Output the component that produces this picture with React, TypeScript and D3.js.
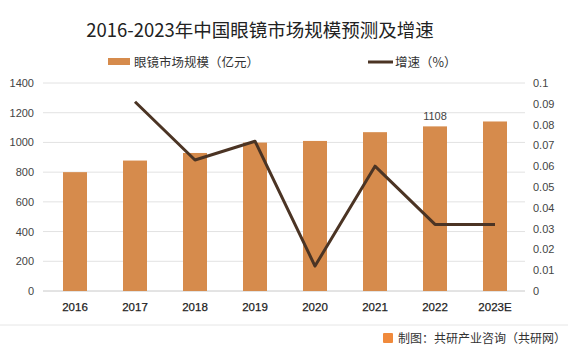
import React from "react";
import * as d3 from "d3";

const categories = ["2016", "2017", "2018", "2019", "2020", "2021", "2022", "2023E"];
const marketSize = [800, 878, 929, 999, 1010, 1069, 1108, 1141];
const growthYears = ["2017", "2018", "2019", "2020", "2021", "2022", "2023E"];
const growthRate = [0.091, 0.063, 0.072, 0.012, 0.060, 0.032, 0.032];
const leftTicks = [0, 200, 400, 600, 800, 1000, 1200, 1400];
const rightTicks = [0, 0.01, 0.02, 0.03, 0.04, 0.05, 0.06, 0.07, 0.08, 0.09, 0.1];
const labeledCategory = "2022";

const W = 568, H = 353;
const M = { left: 45, right: 525, top: 83, bottom: 291 };
const FONT = "'Liberation Sans', 'Noto Sans CJK SC', sans-serif";
const CJK = "'Noto Sans CJK SC', sans-serif";

export default function App() {
  const x = d3.scaleBand<string>().domain(categories).range([M.left, M.right]).paddingInner(0.6).paddingOuter(0.3);
  const yL = d3.scaleLinear().domain([0, 1400]).range([M.bottom, M.top]);
  const yR = d3.scaleLinear().domain([0, 0.1]).range([M.bottom, M.top]);
  const line = d3.line<number>()
    .x((_, i) => (x(growthYears[i]) as number) + x.bandwidth() / 2)
    .y((d) => yR(d));

  return (
    <svg width={W} height={H} style={{ position: "absolute", left: 0, top: 0, background: "#fff" }}>
      <rect x={0} y={0} width={W} height={H} fill="#fff" />
      <text x={260} y={37} textAnchor="middle" fontFamily={CJK} fontSize={18.5} fill="#222">
        2016-2023年中国眼镜市场规模预测及增速
      </text>
      {/* legend */}
      <rect x={108} y={58} width={22} height={7} fill="#D68B4C" />
      <text x={134} y={67} fontFamily={CJK} fontSize={12.5} fill="#333">眼镜市场规模（亿元）</text>
      <line x1={368} x2={393} y1={62} y2={62} stroke="#4B3424" strokeWidth={3} />
      <text x={395} y={67} fontFamily={CJK} fontSize={12.5} fill="#333">增速（%）</text>

      {leftTicks.map((t) => (
        <g key={"l" + t}>
          <line x1={M.left - 2} x2={M.right} y1={yL(t)} y2={yL(t)} stroke={t === 0 ? "#c8c8c8" : "#e2e2e2"} strokeWidth={1} />
          <text x={34} y={yL(t) + 4} textAnchor="end" fontFamily={FONT} fontSize={11} fill="#444">{t}</text>
        </g>
      ))}
      {rightTicks.map((t) => (
        <text key={"r" + t} x={533} y={yR(t) + 4} fontFamily={FONT} fontSize={11} fill="#444">{d3.format("")(+t.toFixed(2))}</text>
      ))}

      {categories.map((c, i) => (
        <g key={c}>
          <rect x={x(c)} y={yL(marketSize[i])} width={x.bandwidth()} height={yL(0) - yL(marketSize[i])} fill="#D68B4C" />
          <text x={(x(c) as number) + x.bandwidth() / 2} y={311} textAnchor="middle" fontFamily={FONT} fontSize={11.5} fill="#222" stroke="#222" strokeWidth={0.25}>{c}</text>
          {c === labeledCategory && (
            <text x={(x(c) as number) + x.bandwidth() / 2} y={yL(marketSize[i]) - 6} textAnchor="middle" fontFamily={FONT} fontSize={11} fill="#444">{marketSize[i]}</text>
          )}
        </g>
      ))}

      <path d={line(growthRate) as string} fill="none" stroke="#4B3424" strokeWidth={3} strokeLinejoin="round" />

      {/* footer */}
      <line x1={0} x2={W} y1={325} y2={325} stroke="#e6e6e6" strokeWidth={1} />
      <rect x={383} y={333} width={10} height={10} fill="#F08A3C" rx={1} />
      <text x={398} y={343} fontFamily={CJK} fontSize={12} fill="#333">制图：共研产业咨询（共研网）</text>
    </svg>
  );
}
